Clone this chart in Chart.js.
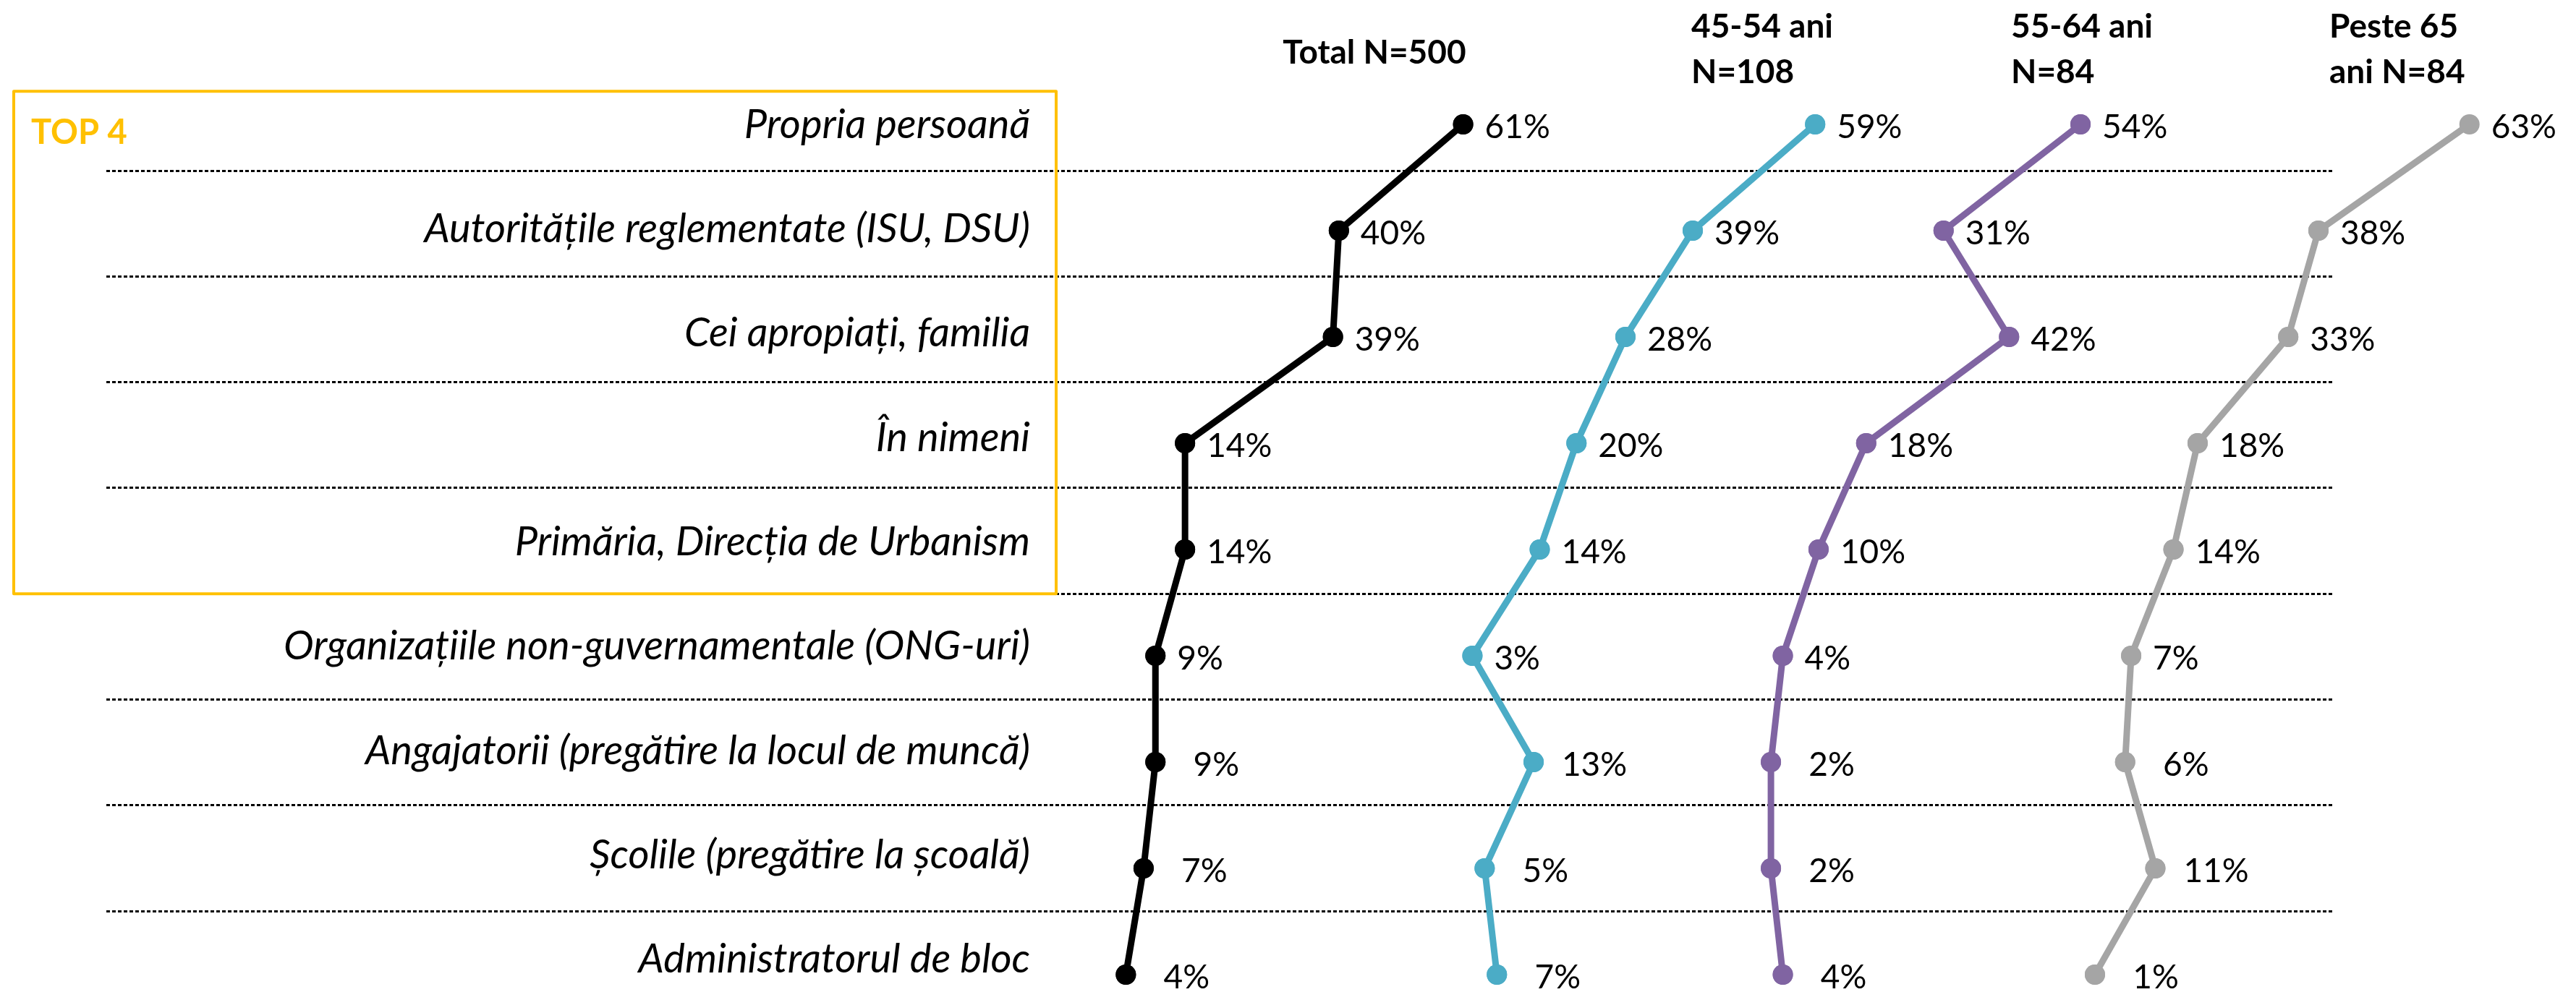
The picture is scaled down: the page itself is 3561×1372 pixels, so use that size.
<!DOCTYPE html>
<html>
<head>
<meta charset="utf-8">
<script src="https://cdn.jsdelivr.net/npm/chart.js@4.4.1/dist/chart.umd.min.js"></script>
<style>
  html, body { margin: 0; padding: 0; background: #ffffff; }
  #wrap { width: 3561px; height: 1372px; position: relative; }
</style>
</head>
<body>
<div id="wrap"><canvas id="chart"></canvas></div>
<script>
// ---------------- DATA ----------------
const categories = [
  'Propria persoană',
  'Autoritățile reglementate (ISU, DSU)',
  'Cei apropiați, familia',
  'În nimeni',
  'Primăria, Direcția de Urbanism',
  'Organizațiile non-guvernamentale (ONG-uri)',
  'Angajatorii (pregătire la locul de muncă)',
  'Școlile (pregătire la școală)',
  'Administratorul de bloc'
];
const seriesTitles = [
  ['Total N=500'],
  ['45-54 ani', 'N=108'],
  ['55-64 ani', 'N=84'],
  ['Peste 65', 'ani N=84']
];
const totalValues  = [61, 40, 39, 14, 14, 9, 9, 7, 4];
const age4554      = [59, 39, 28, 20, 14, 3, 13, 5, 7];
const age5564      = [54, 31, 42, 18, 10, 4, 2, 2, 4];
const age65plus    = [63, 38, 33, 18, 14, 7, 6, 11, 1];
const topBoxTitle  = 'TOP 4';
const topBoxRows   = 5;        // number of leading rows inside the highlight box
const rowBoundaries = [0.5, 1.5, 2.5, 3.5, 4.5, 5.5, 6.5, 7.5];

// ---------------- STYLE ----------------
const seriesColors = ['#000000', '#4BACC6', '#8064A2', '#A5A5A5'];
const seriesAxes = ['xTotal', 'x4554', 'x5564', 'x65'];
const FONT = 'Lato, "Open Sans", sans-serif';

const seriesValues = [totalValues, age4554, age5564, age65plus];

const datasets = seriesValues.map((vals, i) => ({
  label: seriesTitles[i].join(' '),
  data: vals,
  xAxisID: seriesAxes[i],
  yAxisID: 'y',
  borderColor: seriesColors[i],
  backgroundColor: seriesColors[i],
  pointBackgroundColor: seriesColors[i],
  pointBorderColor: seriesColors[i],
  pointBorderWidth: 0,
  pointRadius: 14,
  borderWidth: 9,
  tension: 0,
  clip: false,
  fill: false
}));

const overlay = {
  id: 'overlay',
  beforeDatasetsDraw(chart) {
    const ctx = chart.ctx;
    const yg = chart.scales.yGrid;
    const yl = chart.scales.yLab;
    ctx.save();
    // highlight box
    const boxTop = yg.getPixelForValue(-0.25);
    const boxBottom = yg.getPixelForValue(topBoxRows - 0.5);
    ctx.strokeStyle = '#FFC000';
    ctx.lineWidth = 4;
    ctx.lineJoin = 'round';
    ctx.strokeRect(19, boxTop, 1441, boxBottom - boxTop);
    ctx.fillStyle = '#FFC000';
    ctx.font = 'bold 47px ' + FONT;
    ctx.textAlign = 'left';
    ctx.textBaseline = 'alphabetic';
    ctx.fillText(topBoxTitle, 43, boxTop + 73);

    // category labels
    ctx.fillStyle = '#000000';
    ctx.font = 'italic 56px ' + FONT;
    ctx.textAlign = 'right';
    categories.forEach((c, i) => {
      ctx.fillText(c, 1424, yl.getPixelForValue(i) + 20);
    });

    // series headers
    ctx.font = 'bold 46px ' + FONT;
    ctx.textAlign = 'center';
    ctx.fillText(seriesTitles[0][0], 1900, 88);
    ctx.textAlign = 'left';
    const headerX = [null, 2338, 2780, 3220];
    for (let s = 1; s < seriesTitles.length; s++) {
      seriesTitles[s].forEach((line, k) => {
        ctx.fillText(line, headerX[s], 52 + k * 63);
      });
    }
    ctx.restore();
  },
  afterDatasetsDraw(chart) {
    const ctx = chart.ctx;
    const fullArea = { left: 0, top: 0, right: chart.width, bottom: chart.height };
    ctx.save();
    // redraw markers so those lying right of the grid area are shown too
    chart.data.datasets.forEach((ds, i) => {
      chart.getDatasetMeta(i).data.forEach(pt => pt.draw(ctx, fullArea));
    });
    ctx.fillStyle = '#000000';
    ctx.font = '46px ' + FONT;
    ctx.textBaseline = 'alphabetic';
    chart.data.datasets.forEach((ds, i) => {
      const meta = chart.getDatasetMeta(i);
      meta.data.forEach((pt, j) => {
        const txt = ds.data[j] + '%';
        if (j >= 6) {
          ctx.textAlign = 'center';
          ctx.fillText(txt, pt.x + 84, pt.y + 19);
        } else {
          ctx.textAlign = 'left';
          ctx.fillText(txt, pt.x + 30, pt.y + 19);
        }
      });
    });
    ctx.restore();
  }
};

const hiddenX = (min, max) => ({ type: 'linear', display: false, min, max });

new Chart(document.getElementById('chart'), {
  type: 'line',
  data: { labels: categories, datasets },
  options: {
    indexAxis: 'y',
    responsive: true,
    maintainAspectRatio: false,
    animation: false,
    events: [],
    layout: { padding: { left: 147, right: 336, top: 172, bottom: 24 } },
    plugins: { legend: { display: false }, tooltip: { enabled: false } },
    scales: {
      xTotal: hiddenX(-168.3, 208.0),
      x4554: hiddenX(-220.2, 143.6),
      x5564: hiddenX(-277.6, 96.4),
      x65: hiddenX(-328.2, 40.4),
      y: { type: 'category', display: false, offset: false },
      yLab: { type: 'linear', display: false, reverse: true, min: 0.009, max: 8.1587 },
      yGrid: {
        type: 'linear',
        position: 'left',
        reverse: true,
        min: 0.0625,
        max: 8.1014,
        display: true,
        ticks: { display: false },
        afterBuildTicks: (axis) => { axis.ticks = rowBoundaries.map(v => ({ value: v })); },
        grid: { color: '#000000', lineWidth: 3, drawTicks: false, borderDash: [5, 3] },
        border: { display: false, dash: [5, 3] }
      }
    }
  },
  plugins: [overlay]
});
</script>
</body>
</html>
